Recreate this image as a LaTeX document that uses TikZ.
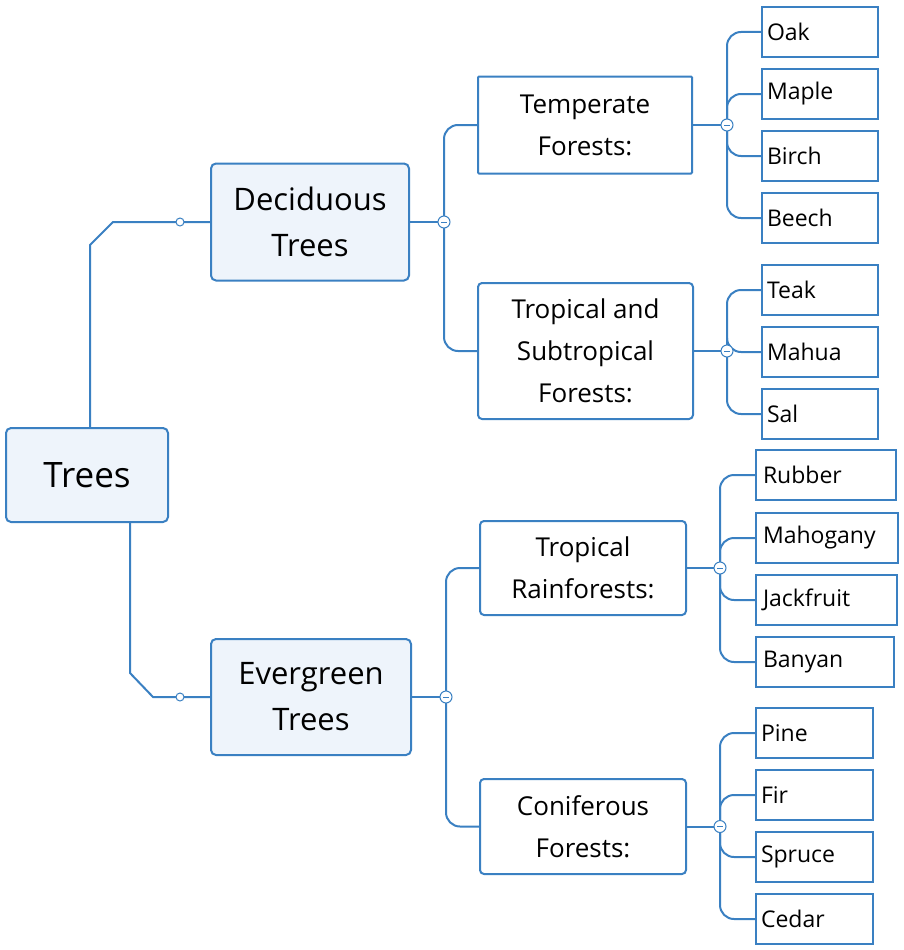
\documentclass[tikz,border=0pt]{standalone}
\usepackage{fontspec}
\setmainfont{Open Sans}
\begin{document}
\begin{tikzpicture}[x=1pt,y=-1pt,
  ln/.style={draw=lineblue,line width=2pt},
  rootbox/.style={draw=lineblue,line width=2pt,fill=boxfill,rounded corners=5pt,align=center,inner sep=0pt},
  midbox/.style={draw=lineblue,line width=2pt,fill=white,rounded corners=4pt,align=center,inner sep=0pt},
  leafbox/.style={draw=lineblue,line width=2pt,fill=white,inner sep=0pt,align=left},
  knob/.style={circle,draw=lineblue,fill=white,line width=1pt,minimum size=12pt,inner sep=0pt},
  dot/.style={circle,draw=lineblue,fill=white,line width=1pt,minimum size=8pt,inner sep=0pt}]
\definecolor{lineblue}{HTML}{3A80C2}
\definecolor{boxfill}{HTML}{EEF4FB}
\useasboundingbox (0,0) rectangle (903,950);
% boxes
\node[rootbox,minimum width=162,minimum height=94,font=\fontsize{35}{40}\selectfont] (trees) at (87,475) {Trees};
\node[rootbox,minimum width=198,minimum height=117,font=\fontsize{31}{46}\selectfont] (dec) at (310,222) {Deciduous\\Trees};
\node[rootbox,minimum width=200,minimum height=116,font=\fontsize{31}{46}\selectfont] (eve) at (311,697) {Evergreen\\Trees};
\node[midbox,rounded corners=1pt,minimum width=214,minimum height=97,font=\fontsize{26}{42}\selectfont] (tem) at (585,125) {Temperate\\Forests:};
\node[midbox,minimum width=215,minimum height=136,font=\fontsize{26}{42}\selectfont] (tro) at (585.5,351) {Tropical and\\Subtropical\\Forests:};
\node[midbox,minimum width=206,minimum height=94,font=\fontsize{26}{42}\selectfont] (rai) at (583,568) {Tropical\\Rainforests:};
\node[midbox,minimum width=206,minimum height=95,font=\fontsize{26}{42}\selectfont] (con) at (583,826.5) {Coniferous\\Forests:};
% leaves
\foreach \n/\t/\y in {oak/Oak/32,map/Maple/94,bir/Birch/156,bee/Beech/218,tea/Teak/290,mah/Mahua/352,sal/Sal/414}{
  \node[leafbox,minimum width=116,minimum height=50,font=\fontsize{23}{26}\selectfont,text width=106] (\n) at (820,\y) {\t};}
\foreach \n/\t/\y/\w in {rub/Rubber/475/140,mhg/Mahogany/538/142,jac/Jackfruit/600/141,ban/Banyan/662/138}{
  \node[leafbox,minimum width=\w,minimum height=50,font=\fontsize{23}{26}\selectfont,text width=\w-14,anchor=west] (\n) at (755,\y) {\t};}
\foreach \n/\t/\y in {pin/Pine/733,fir/Fir/795,spr/Spruce/857,ced/Cedar/919}{
  \node[leafbox,minimum width=117,minimum height=50,font=\fontsize{23}{26}\selectfont,text width=107,anchor=west] (\n) at (755,\y) {\t};}
% root connectors
\coordinate (d1) at (180,222); \coordinate (e1) at (180,697);
\draw[ln] (trees.north -| 90,0) -- (90,245) -- (113,222) -- (dec.west);
\draw[ln] (trees.south -| 130,0) -- (130,673) -- (153,697) -- (eve.west);
\node[dot] at (d1) {}; \node[dot] at (e1) {};
\newcommand{\branch}[4]{%
  \coordinate (#3) at (#2,0 |- #1.east);
  \draw[ln] (#1.east) -- (#3);
  \foreach \c in {#4}{\draw[ln,rounded corners=14pt] (#3) -- (#3 |- \c.west) -- (\c.west);}
  \node[knob] (#3k) at (#3) {};
  \draw[lineblue,line width=1pt] ([xshift=-3pt]#3) -- ([xshift=3pt]#3);}
\branch{dec}{444}{kd}{tem,tro}
\branch{eve}{446}{ke}{rai,con}
\branch{tem}{727}{kt}{oak,map,bir,bee}
\branch{tro}{727}{kr}{tea,mah,sal}
\branch{rai}{720}{ka}{rub,mhg,jac,ban}
\branch{con}{720}{kc}{pin,fir,spr,ced}
\end{tikzpicture}
\end{document}
